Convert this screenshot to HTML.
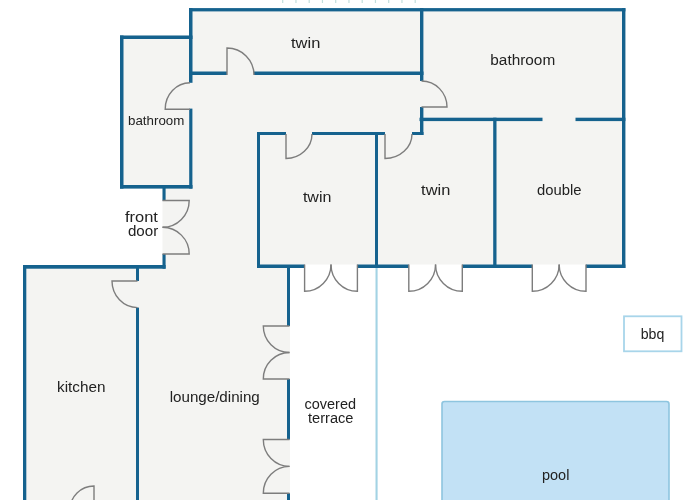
<!DOCTYPE html>
<html><head><meta charset="utf-8"><style>
html,body{margin:0;padding:0;background:#fff;width:700px;height:500px;overflow:hidden}
svg{display:block;will-change:transform}
text{font-family:"Liberation Sans",sans-serif}
.t{opacity:0.999}
</style></head><body>
<svg width="700" height="500" viewBox="0 0 700 500">
<polygon points="189,8.1 625.4,8.1 625.4,264.5 290,264.5 290,500 23,500 23,265 162.5,265 162.5,188 120,188 120,35.5 189,35.5" fill="#f4f4f2"/>
<rect x="282.10" y="0" width="1.2" height="3" fill="#c3dfdd"/>
<rect x="295.35" y="0" width="1.2" height="3" fill="#c3dfdd"/>
<rect x="308.60" y="0" width="1.2" height="3" fill="#c3dfdd"/>
<rect x="321.85" y="0" width="1.2" height="3" fill="#c3dfdd"/>
<rect x="335.10" y="0" width="1.2" height="3" fill="#c3dfdd"/>
<rect x="348.35" y="0" width="1.2" height="3" fill="#c3dfdd"/>
<rect x="361.60" y="0" width="1.2" height="3" fill="#c3dfdd"/>
<rect x="374.85" y="0" width="1.2" height="3" fill="#c3dfdd"/>
<rect x="388.10" y="0" width="1.2" height="3" fill="#c3dfdd"/>
<rect x="401.35" y="0" width="1.2" height="3" fill="#c3dfdd"/>
<rect x="414.60" y="0" width="1.2" height="3" fill="#c3dfdd"/>
<rect x="442" y="401.5" width="227" height="110" rx="2.5" fill="#c2e1f5" stroke="#8ec5df" stroke-width="1.6"/>
<rect x="624" y="316.3" width="57.5" height="35" fill="#ffffff" stroke="#a8d5ea" stroke-width="1.8"/>
<rect x="375.5" y="268" width="2.1" height="232" fill="#a3d3e4"/>
<rect x="189" y="8.1" width="436.4" height="3.3" fill="#15628e"/><rect x="189" y="8" width="3.5" height="74.8" fill="#15628e"/><rect x="189.2" y="108.6" width="3.2" height="80.0" fill="#15628e"/><rect x="120" y="35.5" width="72.5" height="3.5" fill="#15628e"/><rect x="120" y="35.5" width="3.5" height="153.1" fill="#15628e"/><rect x="120" y="185" width="72.5" height="3.6" fill="#15628e"/><rect x="189" y="71.5" width="38" height="3.5" fill="#15628e"/><rect x="254" y="71.5" width="169.5" height="3.5" fill="#15628e"/><rect x="420" y="8.1" width="3.4" height="72.9" fill="#15628e"/><rect x="420" y="107" width="3.4" height="28" fill="#15628e"/><rect x="419.5" y="117.7" width="123.0" height="3.4" fill="#15628e"/><rect x="575.5" y="117.7" width="49.9" height="3.4" fill="#15628e"/><rect x="622" y="8.1" width="3.4" height="259.9" fill="#15628e"/><rect x="257" y="132" width="29" height="3" fill="#15628e"/><rect x="312" y="132" width="73" height="3" fill="#15628e"/><rect x="412" y="132" width="11.5" height="3" fill="#15628e"/><rect x="257" y="132" width="3" height="136" fill="#15628e"/><rect x="375" y="132" width="3" height="136" fill="#15628e"/><rect x="493.2" y="117.7" width="3.3" height="150.3" fill="#15628e"/><rect x="257" y="264.5" width="47.5" height="3.5" fill="#15628e"/><rect x="357.4" y="264.5" width="51.4" height="3.5" fill="#15628e"/><rect x="462.3" y="264.5" width="70.0" height="3.5" fill="#15628e"/><rect x="586" y="264.5" width="39.4" height="3.5" fill="#15628e"/><rect x="287" y="265" width="3" height="61" fill="#15628e"/><rect x="287" y="379" width="3" height="60.5" fill="#15628e"/><rect x="287" y="493.3" width="3" height="6.7" fill="#15628e"/><rect x="162.5" y="185" width="3.1" height="15.5" fill="#15628e"/><rect x="162.5" y="254" width="3.1" height="14.7" fill="#15628e"/><rect x="23" y="265" width="142.6" height="3.7" fill="#15628e"/><rect x="23" y="265" width="3.3" height="235" fill="#15628e"/><rect x="136" y="265" width="3" height="16" fill="#15628e"/><rect x="136" y="307.6" width="3" height="192.4" fill="#15628e"/>
<g fill="none" stroke="#7d7d7d" stroke-width="1.4"><path d="M190 109.2 L165.2 109.2 A24.80000000000001 26.400000000000006 0 0 1 190 82.8"/><path d="M227 75 L227 48 A27 27 0 0 1 254 75"/><path d="M421.5 107 L447 107 A25.5 26 0 0 0 421.5 81"/><path d="M286 134 L286 158.5 A26 24.5 0 0 0 312 134"/><path d="M385 134 L385 158.5 A27 24.5 0 0 0 412 134"/><path d="M162.5 200.5 L189.2 200.5 A26.69999999999999 26.80000000000001 0 0 1 162.5 227.3"/><path d="M162.5 254 L189.2 254 A26.69999999999999 26.69999999999999 0 0 0 162.5 227.3"/><path d="M137.5 281 L112 281 A25.5 26.600000000000023 0 0 0 137.5 307.6"/><path d="M94 510 L94 486 A24 24 0 0 0 70 510"/><path d="M304.6 264.5 L304.6 291.3 A26.399999999999977 26.80000000000001 0 0 0 331.0 264.5"/><path d="M357.4 264.5 L357.4 291.3 A26.399999999999977 26.80000000000001 0 0 1 331.0 264.5"/><path d="M408.8 264.5 L408.8 291.3 A26.75 26.80000000000001 0 0 0 435.55 264.5"/><path d="M462.3 264.5 L462.3 291.3 A26.75 26.80000000000001 0 0 1 435.55 264.5"/><path d="M532.3 264.5 L532.3 291.3 A26.850000000000023 26.80000000000001 0 0 0 559.15 264.5"/><path d="M586 264.5 L586 291.3 A26.850000000000023 26.80000000000001 0 0 1 559.15 264.5"/><path d="M289.5 326 L263.3 326 A26.19999999999999 26.5 0 0 0 289.5 352.5"/><path d="M289.5 379 L263.3 379 A26.19999999999999 26.5 0 0 1 289.5 352.5"/><path d="M289.5 439.5 L263.3 439.5 A26.19999999999999 26.899999999999977 0 0 0 289.5 466.4"/><path d="M289.5 493.3 L263.3 493.3 A26.19999999999999 26.900000000000034 0 0 1 289.5 466.4"/></g>
<g class="t" font-family="Liberation Sans, sans-serif" fill="#222222"><text x="291" y="47.6" font-size="13.8" textLength="29.3" lengthAdjust="spacingAndGlyphs">twin</text><text x="490.3" y="64.8" font-size="13.8" textLength="64.9" lengthAdjust="spacingAndGlyphs">bathroom</text><text x="128" y="125.3" font-size="12.8" textLength="56.3" lengthAdjust="spacingAndGlyphs">bathroom</text><text x="302.9" y="201.9" font-size="13.8" textLength="28.5" lengthAdjust="spacingAndGlyphs">twin</text><text x="421.1" y="194.8" font-size="13.8" textLength="29.2" lengthAdjust="spacingAndGlyphs">twin</text><text x="537" y="194.7" font-size="13.8" textLength="44.5" lengthAdjust="spacingAndGlyphs">double</text><text x="125" y="221.9" font-size="13.8" textLength="32.9" lengthAdjust="spacingAndGlyphs">front</text><text x="127.9" y="236.2" font-size="13.8" textLength="30.3" lengthAdjust="spacingAndGlyphs">door</text><text x="57" y="392.0" font-size="13.8" textLength="48.5" lengthAdjust="spacingAndGlyphs">kitchen</text><text x="169.7" y="401.7" font-size="13.8" textLength="90.1" lengthAdjust="spacingAndGlyphs">lounge/dining</text><text x="304.5" y="408.5" font-size="13.8" textLength="51.5" lengthAdjust="spacingAndGlyphs">covered</text><text x="308" y="422.5" font-size="13.8" textLength="45.5" lengthAdjust="spacingAndGlyphs">terrace</text><text x="542" y="480.2" font-size="13.8" textLength="27.4" lengthAdjust="spacingAndGlyphs">pool</text><text x="640.7" y="339.4" font-size="13.8" textLength="23.6" lengthAdjust="spacingAndGlyphs">bbq</text></g>
</svg>
</body></html>
